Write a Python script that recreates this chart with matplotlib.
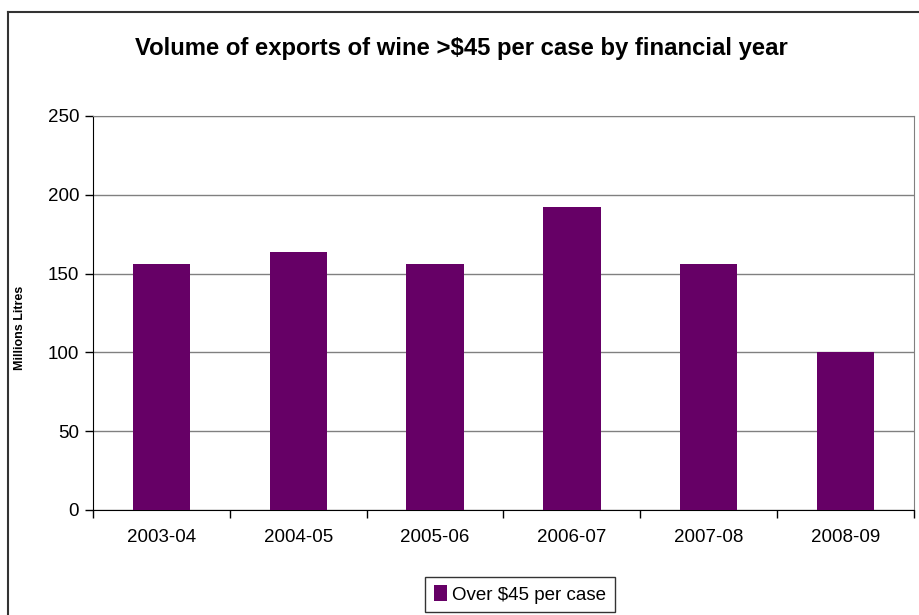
import matplotlib.pyplot as plt
from matplotlib.lines import Line2D
import numpy as np

plt.rcParams['font.family'] = ['Liberation Sans', 'DejaVu Sans']

years = ['2003-04', '2004-05', '2005-06', '2006-07', '2007-08', '2008-09']
volume = [156, 164, 156, 192, 156, 100]
series_name = 'Over $45 per case'
y_ticks = [0, 50, 100, 150, 200, 250]

W, H = 919, 615
fig = plt.figure(figsize=(W / 100, H / 100), dpi=100)
ax = fig.add_axes([93 / W, 1 - 510 / H, (914 - 93) / W, (510 - 116) / H])

x = np.arange(len(years))
ax.bar(x, volume, width=0.42, color='#660066', edgecolor='none', zorder=3,
       label=series_name)

ax.set_xlim(-0.5, len(years) - 0.5)
ax.set_ylim(0, 250)
ax.set_yticks(y_ticks)
ax.set_yticklabels([str(v) for v in y_ticks], fontsize=13.5)
ax.yaxis.grid(True, color='#808080', linewidth=1, zorder=0)

# category labels centred, tick marks on the category boundaries
ax.set_xticks(x)
ax.set_xticklabels(years, fontsize=13.5)
ax.tick_params(axis='x', length=0, pad=14)
ax.set_xticks(np.arange(-0.5, len(years)), minor=True)
ax.tick_params(axis='x', which='minor', length=6, width=1, color='black')
ax.tick_params(axis='y', length=6, width=1, pad=4)

for side in ['top', 'right']:
    ax.spines[side].set_color('#808080')
ax.spines['left'].set_color('black')
ax.spines['bottom'].set_color('black')

fig.text(0.502, 1 - 48 / H, 'Volume of exports of wine >$45 per case by financial year',
         ha='center', va='center', fontsize=17.2, fontweight='bold')
fig.text(20 / W, 1 - 328 / H, 'Millions Litres', rotation=90, ha='center',
         va='center', fontsize=9, fontweight='bold')

leg = fig.legend(loc='center', bbox_to_anchor=(520 / W, 1 - 594.5 / H),
                 fontsize=13.5, frameon=True, fancybox=False, handlelength=0.7,
                 handleheight=0.9, handletextpad=0.3, borderpad=0.45,
                 borderaxespad=0)
leg.get_frame().set_edgecolor('black')
leg.get_frame().set_linewidth(1)

# chart frame
fig.add_artist(Line2D([8 / W, 8 / W], [-0.05, 1 - 12 / H], color='#333333', lw=1.5))
fig.add_artist(Line2D([8 / W, 1.05], [1 - 12 / H, 1 - 12 / H], color='#333333', lw=1.5))

fig.savefig('out.png', dpi=100)
